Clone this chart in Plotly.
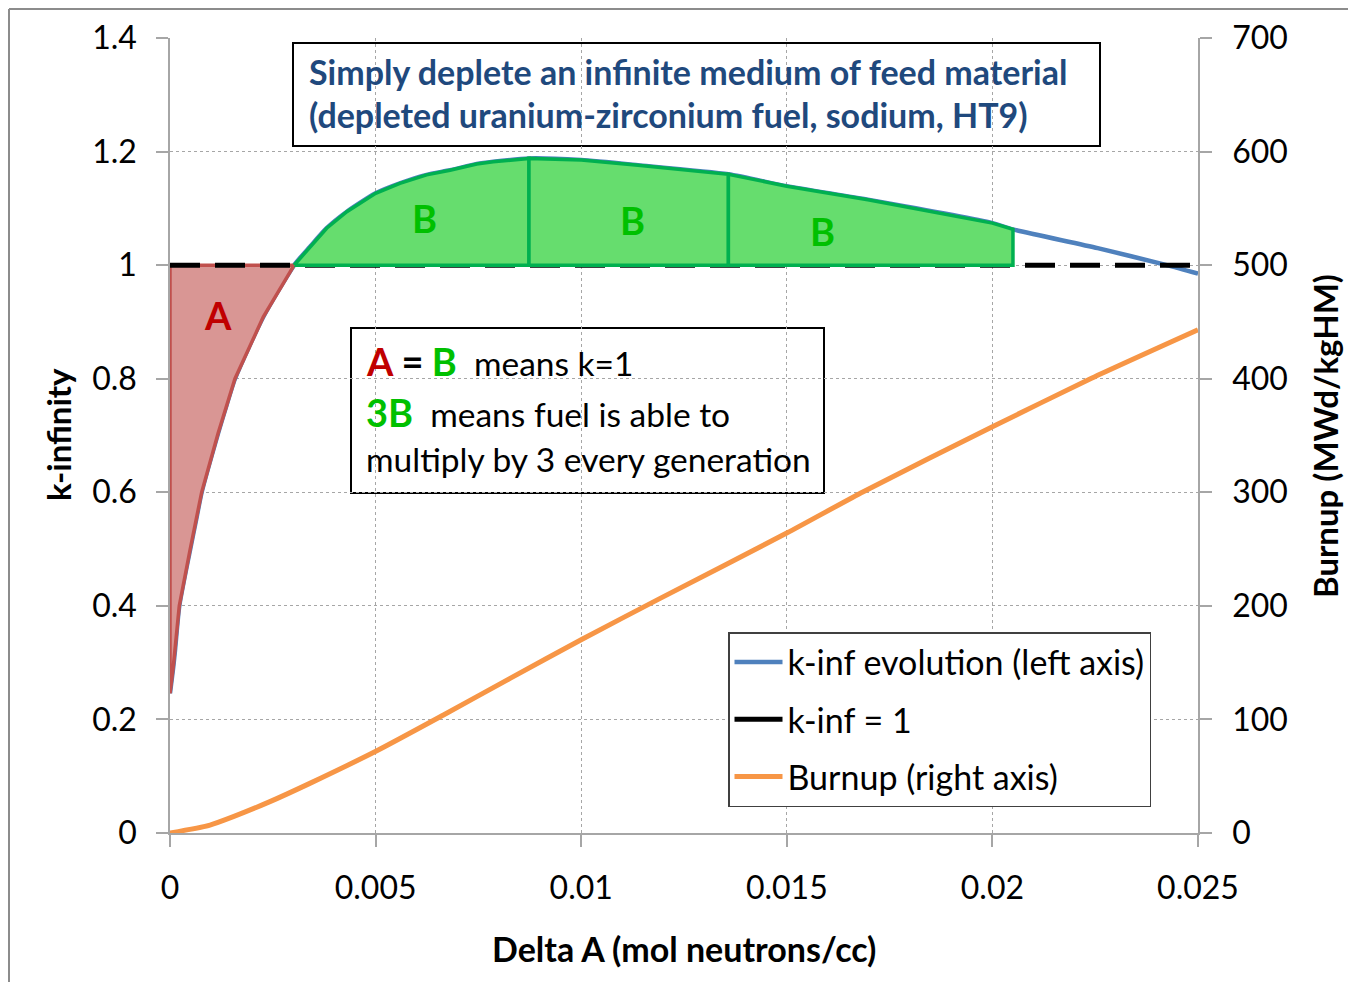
import plotly.graph_objects as go

# ---- data ----
delta_a = [0, 0.00008, 0.000122, 0.000226, 0.000486, 0.00065, 0.00077, 0.00117,
           0.00134, 0.00158, 0.00227, 0.00302, 0.0034, 0.00381, 0.0043, 0.005,
           0.00559, 0.00624, 0.00681, 0.00746, 0.00786, 0.00873, 0.01, 0.01138,
           0.01358, 0.015, 0.01697, 0.02, 0.0205, 0.02256, 0.02424, 0.025]
k_inf = [0.246, 0.293, 0.322, 0.4, 0.498, 0.557, 0.6, 0.704,
         0.745, 0.8, 0.909, 1.0, 1.032, 1.065, 1.094, 1.1265,
         1.144, 1.159, 1.167, 1.178, 1.182, 1.188, 1.185, 1.176,
         1.160, 1.139, 1.115, 1.074, 1.063, 1.030, 1.0, 0.985]

burnup_x = [0, 0.000973, 0.00154, 0.00243, 0.0034, 0.00503, 0.00665, 0.00827,
            0.01001, 0.01192, 0.01501, 0.01686, 0.02, 0.02241, 0.025]
burnup = [0, 7, 14.4, 27.6, 43.7, 72.4, 103.9, 136.1,
          170.4, 206.6, 264.3, 300.5, 357.7, 400.3, 443]

k_one_x = [0, 0.025]
k_one = [1, 1]

region_a_end = 0.00302
region_b_splits = [0.00302, 0.00873, 0.01358, 0.0205]

x_ticks = [0, 0.005, 0.01, 0.015, 0.02, 0.025]
x_tick_text = ["0", "0.005", "0.01", "0.015", "0.02", "0.025"]
y_ticks = [0, 0.2, 0.4, 0.6, 0.8, 1.0, 1.2, 1.4]
y_tick_text = ["0", "0.2", "0.4", "0.6", "0.8", "1", "1.2", "1.4"]
y2_ticks = [0, 100, 200, 300, 400, 500, 600, 700]
y2_tick_text = ["0", "100", "200", "300", "400", "500", "600", "700"]

FONT = "Lato"
BLUE = "#4F81BD"
ORANGE = "#F79646"
RED_LINE = "#C0504D"
RED_FILL = "#D99694"
GREEN_LINE = "#00B050"
GREEN_FILL = "#66DD6E"
GRID = "#A6A6A6"

# the page body has an 8px margin; figure is placed at (8, 8)
OFF = 8
W, H = 1340, 974
L, T = 162, 30
PW, PH = 1028, 795
R, B = W - L - PW, H - T - PH


def px(page_x):
    return (page_x - OFF - L) / PW


def py(page_y):
    return (T + PH - (page_y - OFF)) / PH


fig = go.Figure()

# k-inf curve (left axis)
fig.add_trace(go.Scatter(x=delta_a, y=k_inf, mode="lines", name="k-inf evolution (left axis)",
                         line=dict(color=BLUE, width=4.5, shape="spline", smoothing=0.6),
                         legendgroup="a"))

# region A (k < 1)
ax = [x for x in delta_a if x <= region_a_end]
ak = [k for x, k in zip(delta_a, k_inf) if x <= region_a_end]
fig.add_trace(go.Scatter(x=[0] + ax + [0], y=[1] + ak + [1], mode="lines", fill="toself",
                         fillcolor=RED_FILL, line=dict(color=RED_LINE, width=3.5),
                         showlegend=False, hoverinfo="skip"))

# k = 1 line (dashed in the plot, solid sample in the legend)
fig.add_trace(go.Scatter(x=k_one_x, y=k_one, mode="lines", name="k-inf = 1",
                         line=dict(color="black", width=5, dash="30px,15px"),
                         legendgroup="b", showlegend=False))
fig.add_trace(go.Scatter(x=[None], y=[None], mode="lines", name="k-inf = 1",
                         line=dict(color="black", width=5), legendgroup="b"))

# regions B (k > 1)
for s0, s1 in zip(region_b_splits[:-1], region_b_splits[1:]):
    bx = [x for x in delta_a if s0 <= x <= s1]
    bk = [k for x, k in zip(delta_a, k_inf) if s0 <= x <= s1]
    fig.add_trace(go.Scatter(x=[s0] + bx + [s1, s0], y=[1] + bk + [1, 1], mode="lines",
                             fill="toself", fillcolor=GREEN_FILL,
                             line=dict(color=GREEN_LINE, width=3.5),
                             showlegend=False, hoverinfo="skip"))

# burnup (right axis)
fig.add_trace(go.Scatter(x=burnup_x, y=burnup, mode="lines", name="Burnup (right axis)",
                         line=dict(color=ORANGE, width=5, shape="spline", smoothing=0.6),
                         yaxis="y2", legendgroup="c"))

axis_common = dict(showline=True, linecolor=GRID, linewidth=1.5, ticks="outside",
                   ticklen=12, tickcolor=GRID, tickwidth=1.5, zeroline=False,
                   tickfont=dict(family=FONT, size=32, color="black"))

fig.update_layout(
    width=W, height=H,
    margin=dict(l=L, r=R, t=T, b=B, autoexpand=False),
    paper_bgcolor="white", plot_bgcolor="white",
    font=dict(family=FONT, color="black"),
    xaxis=dict(range=[0, 0.025], tickmode="array", tickvals=x_ticks, ticktext=x_tick_text,
               showgrid=True, gridcolor=GRID, griddash="3px,3px", gridwidth=1,
               ticklabelstandoff=14, **axis_common),
    yaxis=dict(range=[0, 1.4], tickmode="array", tickvals=y_ticks, ticktext=y_tick_text,
               showgrid=True, gridcolor=GRID, griddash="3px,3px", gridwidth=1,
               ticklabelstandoff=13, **axis_common),
    yaxis2=dict(range=[0, 700], tickmode="array", tickvals=y2_ticks, ticktext=y2_tick_text,
                overlaying="y", side="right", showgrid=False,
                ticklabelstandoff=14, **axis_common),
    legend=dict(x=px(728), y=py(632), xanchor="left", yanchor="top",
                bgcolor="white", bordercolor="#404040", borderwidth=1.5,
                font=dict(family=FONT, size=34, color="black"),
                tracegroupgap=10, itemwidth=48, traceorder="grouped"),
    showlegend=True,
)

shapes = [
    # title box
    dict(type="rect", xref="paper", yref="paper", x0=px(293), x1=px(1100), y0=py(146), y1=py(43),
         line=dict(color="black", width=2), fillcolor="white", layer="between"),
    # explanation box
    dict(type="rect", xref="paper", yref="paper", x0=px(351), x1=px(824), y0=py(493), y1=py(328),
         line=dict(color="black", width=2), fillcolor="white", layer="between"),
    # outer frame
    dict(type="line", xref="paper", yref="paper", x0=px(9), x1=px(9), y0=py(982), y1=py(9),
         line=dict(color="#8C8C8C", width=2)),
    dict(type="line", xref="paper", yref="paper", x0=px(9), x1=px(1348), y0=py(9), y1=py(9),
         line=dict(color="#8C8C8C", width=2)),
]
fig.update_layout(shapes=shapes)

ann = []
TITLE_BLUE = "#1F497D"
ann.append(dict(xref="paper", yref="paper", x=px(307), y=py(72), xanchor="left", yanchor="middle",
                text="<b>Simply deplete an infinite medium of feed material</b>", showarrow=False,
                font=dict(family=FONT, size=34, color=TITLE_BLUE)))
ann.append(dict(xref="paper", yref="paper", x=px(307), y=py(115), xanchor="left", yanchor="middle",
                text="<b>(depleted uranium-zirconium fuel, sodium, HT9)</b>", showarrow=False,
                font=dict(family=FONT, size=34, color=TITLE_BLUE)))

RED_T = "#C00000"
GREEN_T = "#00C000"
ann.append(dict(xref="paper", yref="paper", x=px(364), y=py(361), xanchor="left", yanchor="middle",
                text=f"<b><span style='color:{RED_T};font-size:38px'>A</span> "
                     f"<span style='font-size:38px'>=</span> "
                     f"<span style='color:{GREEN_T};font-size:38px'>B</span></b>  means k=1",
                showarrow=False, font=dict(family=FONT, size=33.5, color="black")))
ann.append(dict(xref="paper", yref="paper", x=px(364), y=py(412), xanchor="left", yanchor="middle",
                text=f"<b><span style='color:{GREEN_T};font-size:38px'>3B</span></b>  means fuel is able to",
                showarrow=False, font=dict(family=FONT, size=33.5, color="black")))
ann.append(dict(xref="paper", yref="paper", x=px(364), y=py(459), xanchor="left", yanchor="middle",
                text="multiply by 3 every generation",
                showarrow=False, font=dict(family=FONT, size=33.5, color="black")))

# region letters
ann.append(dict(xref="x", yref="y", x=0.001167, y=0.912, text="<b>A</b>", showarrow=False,
                xanchor="center", yanchor="middle",
                font=dict(family=FONT, size=38, color=RED_T)))
for bxp, byp in [(0.0062, 1.083), (0.01124, 1.0795), (0.01586, 1.060)]:
    ann.append(dict(xref="x", yref="y", x=bxp, y=byp, text="<b>B</b>", showarrow=False,
                    xanchor="center", yanchor="middle",
                    font=dict(family=FONT, size=38, color=GREEN_T)))

# axis titles
ann.append(dict(xref="paper", yref="paper", x=px(684), y=py(948), xanchor="center", yanchor="middle",
                text="<b>Delta A (mol neutrons/cc)</b>",
                showarrow=False, font=dict(family=FONT, size=34, color="black")))
ann.append(dict(xref="paper", yref="paper", x=px(58), y=py(435), xanchor="center", yanchor="middle",
                text="<b>k-infinity</b>", textangle=-90,
                showarrow=False, font=dict(family=FONT, size=33, color="black")))
ann.append(dict(xref="paper", yref="paper", x=px(1325), y=py(436), xanchor="center", yanchor="middle",
                text="<b>Burnup (MWd/kgHM)</b>",
                textangle=-90, showarrow=False, font=dict(family=FONT, size=33, color="black")))
fig.update_layout(annotations=ann)

fig.write_html("out.html")
